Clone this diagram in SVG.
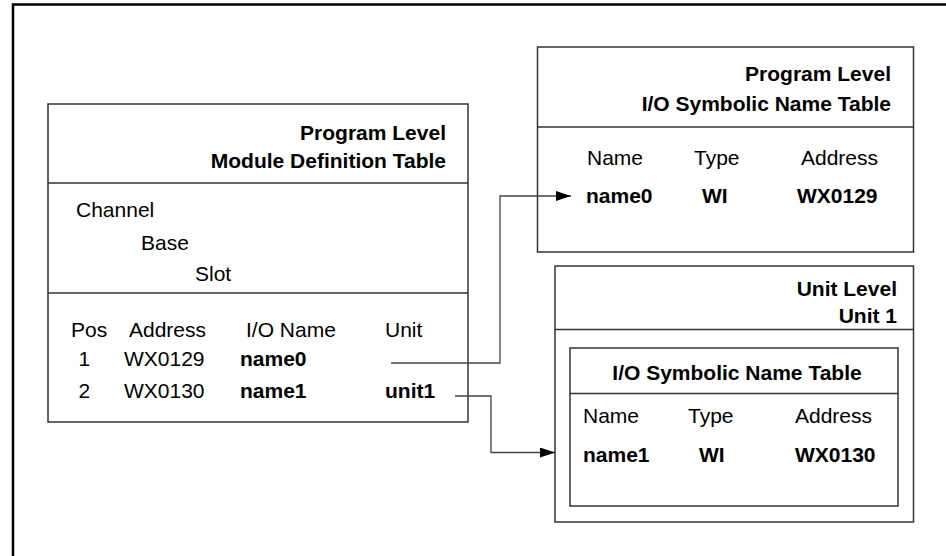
<svg xmlns="http://www.w3.org/2000/svg" width="946" height="556" viewBox="0 0 946 556">
<style>
text{font-family:"Liberation Sans",Arial,sans-serif;font-size:21px;fill:#000}
.b{font-weight:bold}
.e{text-anchor:end}
.m{text-anchor:middle}
.box{fill:none;stroke:#333;stroke-width:1.5}
.ln{fill:none;stroke:#333;stroke-width:1.5}
.cn{fill:none;stroke:#444;stroke-width:1.3}
</style>
<defs>
<marker id="ah" markerWidth="15" markerHeight="10" refX="15" refY="5" orient="auto" markerUnits="userSpaceOnUse">
<path d="M0,0 L15,5 L0,10 Z" fill="#000"/>
</marker>
</defs>
<rect width="946" height="556" fill="#fff"/>
<path d="M13,556 V4.5 H946" fill="none" stroke="#000" stroke-width="2.5"/>

<g id="module-definition-table">
<rect class="box" x="48" y="104" width="420" height="318"/>
<line class="ln" x1="48" y1="183" x2="468" y2="183"/>
<line class="ln" x1="48" y1="293" x2="468" y2="293"/>
<text class="b e" x="446" y="140">Program Level</text>
<text class="b e" x="446" y="168">Module Definition Table</text>
<text x="76" y="216.5">Channel</text>
<text x="141" y="250">Base</text>
<text x="195" y="280.5">Slot</text>
<text x="71" y="337">Pos</text>
<text x="129" y="337">Address</text>
<text x="246" y="337">I/O Name</text>
<text x="385" y="337">Unit</text>
<text x="78.5" y="366">1</text>
<text x="124" y="366">WX0129</text>
<text class="b" x="240" y="366">name0</text>
<text x="78.5" y="398">2</text>
<text x="124" y="398">WX0130</text>
<text class="b" x="240" y="398">name1</text>
<text class="b" x="385" y="398">unit1</text>
</g>

<g id="program-io-table">
<rect class="box" x="537.5" y="47" width="376" height="205"/>
<line class="ln" x1="537.5" y1="127" x2="913.5" y2="127"/>
<text class="b e" x="891" y="81">Program Level</text>
<text class="b e" x="891" y="111">I/O Symbolic Name Table</text>
<text x="587" y="165">Name</text>
<text x="694" y="165">Type</text>
<text x="801" y="165">Address</text>
<text class="b" x="586" y="203">name0</text>
<text class="b" x="702" y="203">WI</text>
<text class="b" x="797" y="203">WX0129</text>
</g>

<g id="unit-level">
<rect class="box" x="555" y="266" width="358.5" height="256"/>
<line class="ln" x1="555" y1="329.5" x2="913.5" y2="329.5"/>
<text class="b e" x="897" y="296">Unit Level</text>
<text class="b e" x="897" y="323">Unit 1</text>
<g id="unit-io-table">
<rect class="box" x="570" y="348" width="328" height="158"/>
<line class="ln" x1="570" y1="393.5" x2="898" y2="393.5"/>
<text class="b m" x="737" y="380">I/O Symbolic Name Table</text>
<text x="583" y="423">Name</text>
<text x="688" y="423">Type</text>
<text x="795" y="423">Address</text>
<text class="b" x="583" y="462">name1</text>
<text class="b" x="699" y="462">WI</text>
<text class="b" x="795" y="462">WX0130</text>
</g>
</g>

<g id="connectors">
<path class="cn" d="M391,363 H500 V196 H571" marker-end="url(#ah)"/>
<path class="cn" d="M455,396 H491 V452.5 H555" marker-end="url(#ah)"/>
</g>
</svg>
